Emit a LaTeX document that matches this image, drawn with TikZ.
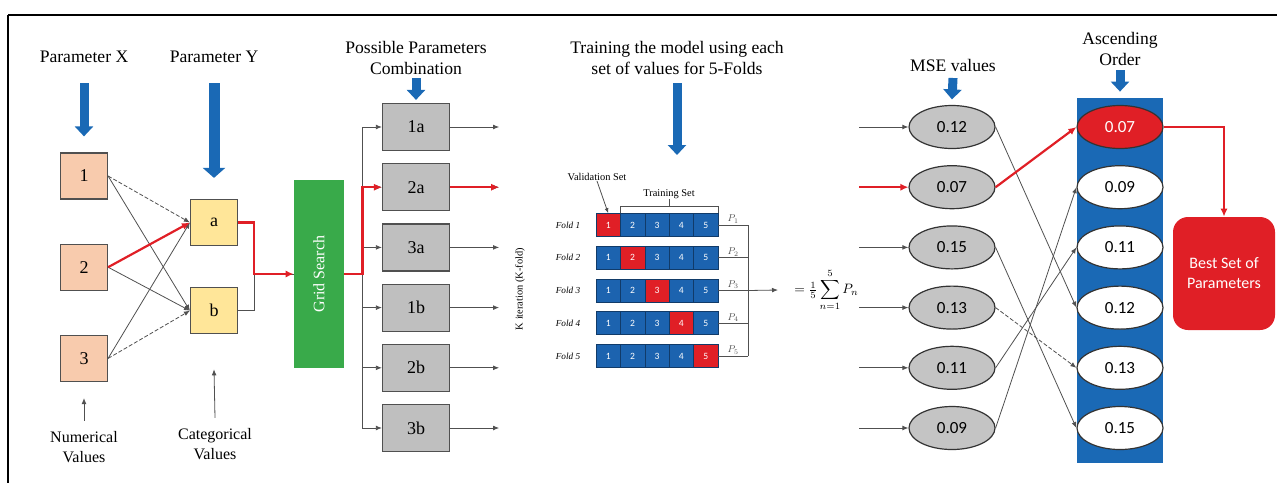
\documentclass[tikz,border=0pt]{standalone}
\usepackage{fontspec}
\setmainfont{Liberation Serif}
\newfontfamily\calibri{Carlito}
\usepackage{tikz}
\usetikzlibrary{positioning, shapes.geometric, arrows.meta}

\definecolor{salmonbox}{HTML}{F8CBAD}
\definecolor{yellowbox}{HTML}{FFE699}
\definecolor{gridgreen}{HTML}{39AA4A}
\definecolor{combgray}{HTML}{BFBFBF}
\definecolor{msegray}{HTML}{C4C4C4}
\definecolor{bigblue}{HTML}{1A69B5}
\definecolor{foldblue}{HTML}{1C63AF}
\definecolor{bestred}{HTML}{E01F26}
\definecolor{edgegray}{HTML}{505050}

\begin{document}
\begin{tikzpicture}[x=0.5pt, y=-0.5pt, node distance=6pt,
    headline/.style={font=\fontsize{8.8}{10.5}\selectfont, align=center, inner sep=0pt},
    bottomnote/.style={font=\fontsize{8}{10}\selectfont, align=center, inner sep=0pt},
    tinytext/.style={font=\fontsize{5.2}{6}\selectfont, inner sep=0pt},
    xbox/.style={draw=edgegray, line width=0.6pt, fill=salmonbox, minimum width=23.5pt, minimum height=23pt, inner sep=0pt, font=\fontsize{9}{10}\selectfont},
    ybox/.style={xbox, fill=yellowbox},
    combbox/.style={xbox, fill=combgray, minimum width=33.5pt, minimum height=23.5pt},
    gridbox/.style={fill=gridgreen, text=white, minimum width=25pt, minimum height=94pt, inner sep=0pt, font=\fontsize{8}{10}\selectfont},
    cell/.style={draw=foldblue!60!black, line width=0.3pt, text=white, minimum width=12.2pt, minimum height=11.5pt, inner sep=0pt, font=\calibri\fontsize{4.8}{5}\selectfont},
    foldlbl/.style={font=\fontsize{4.6}{5}\selectfont\itshape, inner sep=0pt},
    plbl/.style={inner sep=0.6pt},
    mseval/.style={ellipse, draw=black!80, line width=0.6pt, fill=msegray, minimum width=43pt, minimum height=21.5pt, inner sep=0pt, font=\calibri\fontsize{8.5}{10}\selectfont},
    ascval/.style={mseval, fill=white},
    bestbox/.style={fill=bestred, text=white, rounded corners=7.5pt, minimum width=51pt, minimum height=56.5pt, align=center, font=\calibri\fontsize{8}{10}\selectfont},
    bigarrow/.style={draw=bigblue, line width=4.5pt, -{Triangle[width=9pt,length=5pt]}},
    link/.style={draw=edgegray, line width=0.4pt, -{Latex[length=3pt,width=2.4pt]}},
    redlink/.style={draw=bestred, line width=1.1pt, -{Latex[length=4pt,width=3.6pt]}}]
  \useasboundingbox (0,0) rectangle (1277,483);
  % frame
  \draw[line width=1.2pt] (8,15) -- (1277,15);
  \draw[line width=0.6pt] (8,15) -- (8,483);

  % parameters
  \node[headline] (parX) at (84,57) {Parameter X};
  \node[headline] (parY) at (214,57) {Parameter Y};
  \node[xbox] (x1) at (84,176) {1};
  \node[xbox, below=22pt of x1] (x2) {2};
  \node[xbox, below=22pt of x2] (x3) {3};
  \node[ybox] (ya) at (214,222.5) {a};
  \node[ybox, below=20.5pt of ya] (yb) {b};
  \node[bottomnote] (num) at (84,447) {Numerical\\Values};
  \node[bottomnote] (cat) at (215,444) {Categorical\\Values};

  \draw[bigarrow] ([yshift=-13pt]parX.center) -- ([yshift=8pt]x1.north);
  \draw[bigarrow, line width=5.5pt, -{Triangle[width=11pt,length=5pt]}] ([yshift=-13pt]parY.center) -- ([yshift=10.5pt]ya.north);
  \draw[link, dash pattern=on 2pt off 1pt] (x1.east) -- (ya.west);
  \draw[link] (x1.east) -- (yb.west);
  \draw[link] (x2.east) -- (yb.west);
  \draw[link] (x3.east) -- (ya.west);
  \draw[link, dash pattern=on 2pt off 1pt] (x3.east) -- (yb.west);
  \draw[redlink] (x2.east) -- (ya.west);
  \draw[link] ([yshift=5pt]num.north) -- ([yshift=-8pt]x3.south);
  \draw[link] ([yshift=5pt]cat.north) -- ([yshift=-17.5pt]yb.south);

  % grid search
  \node[gridbox] (grid) at (319,274) {\rotatebox{90}{Grid Search}};
  \draw[edgegray, line width=0.5pt] (yb.east) -- ++(8pt,0) |- (grid.west);
  \draw[redlink] (ya.east) -- ++(8pt,0) |- (grid.west);

  % combinations
  \node[headline] (comb) at (416,57.5) {Possible Parameters\\Combination};
  \node[combbox] (c1a) at (416,127) {1a};
  \node[combbox, below=of c1a] (c2a) {2a};
  \node[combbox, below=of c2a] (c3a) {3a};
  \node[combbox, below=of c3a] (c1b) {1b};
  \node[combbox, below=of c1b] (c2b) {2b};
  \node[combbox, below=of c2b] (c3b) {3b};
  \draw[bigarrow] ([yshift=-10.25pt]comb.center) -- ([yshift=1.5pt]c1a.north);
  \foreach \n in {c1a,c2a,c3a,c1b,c2b,c3b}{
    \coordinate[right=24.5pt of \n] (o\n);
    \draw[link] (grid.east) -- ++(9pt,0) |- (\n.west);
    \draw[link] (\n.east) -- (o\n);
  }
  \draw[redlink] (grid.east) -- ++(9pt,0) |- (c2a.west);
  \draw[redlink] (c2a.east) -- (oc2a);
  \node[tinytext, rotate=90] (kit) at (520,289) {K iteration (K-fold)};

  % k-fold training
  \node[headline] (train) at (677,58) {Training the model using each\\set of values for 5-Folds};
  \coordinate (trainTip) at (677,155);
  \draw[bigarrow] ([yshift=-12.5pt]train.center) -- (trainTip);
  \foreach \r in {1,...,5}{
    \node[foldlbl] (fl\r) at (568,{225+32.75*(\r-1)}) {Fold \r};
    \foreach \c in {1,...,5}{
      \ifnum\r=\c \def\cellcol{bestred}\else \def\cellcol{foldblue}\fi
      \node[cell, fill=\cellcol] (f\r\c) at ({596+24.4*\c-12.2},{225+32.75*(\r-1)}) {\c};
    }
    \coordinate (p\r) at (748,{225+32.75*(\r-1)});
    \draw[edgegray, line width=0.4pt] (f\r5.east) -- node[plbl, above] {\scalebox{0.5}{$P_\r$}} (p\r);
  }
  \draw[edgegray, line width=0.4pt] (p1) -- (p5);
  \node[tinytext] (val) at (597,177) {Validation Set};
  \node[tinytext] (trn) at (669,194) {Training Set};
  \draw[edgegray, line width=0.4pt, -{Latex[length=2.5pt,width=2pt]}] (val.south) -- (f11.north);
  \draw[edgegray, line width=0.3pt] (f12.north west) -- ++(0,3.5pt) coordinate (brl) -| (f15.north east);
  \draw[edgegray, line width=0.3pt] (trn.south) -- (trn.south |- brl);
  \node[anchor=west, inner sep=0pt] (avg) at (794,290) {\scalebox{0.68}{$=\frac{1}{5}\displaystyle\sum_{n=1}^{5}P_n$}};
  \draw[link] (p3) -- ([xshift=-8pt]avg.west);

  % MSE values
  \node[headline] (mse) at (953,65) {MSE values};
  \node[mseval] (m1) at (952,127) {0.12};
  \node[mseval, below=8pt of m1] (m2) {0.07};
  \node[mseval, below=8pt of m2] (m3) {0.15};
  \node[mseval, below=8pt of m3] (m4) {0.13};
  \node[mseval, below=8pt of m4] (m5) {0.11};
  \node[mseval, below=8pt of m5] (m6) {0.09};
  \draw[bigarrow] ([yshift=-6.5pt]mse.center) -- ([yshift=2.75pt]m1.north);
  \foreach \i in {1,...,6}{
    \coordinate[left=24.5pt of m\i] (in\i);
  }
  \draw[link] (in1) -- (m1.west);
  \draw[redlink] (in2) -- (m2.west);
  \draw[link] (in3) -- (m3.west);
  \draw[link] (in4) -- (m4.west);
  \draw[link] (in5) -- (m5.west);
  \draw[link] (in6) -- (m6.west);

  % ascending order
  \node[headline] (asc) at (1120,49) {Ascending\\Order};
  \node[fill=bigblue, minimum width=43pt, minimum height=182.5pt, inner sep=0pt] (col) at (1120,280.5) {};
  \draw[bigarrow] ([yshift=-10.5pt]asc.center) -- ([yshift=3pt]col.north);
  \node[ascval, fill=bestred, text=white] (a1) at (1120,127) {0.07};
  \node[ascval, below=8pt of a1] (a2) {0.09};
  \node[ascval, below=8pt of a2] (a3) {0.11};
  \node[ascval, below=8pt of a3] (a4) {0.12};
  \node[ascval, below=8pt of a4] (a5) {0.13};
  \node[ascval, below=8pt of a5] (a6) {0.15};
  \draw[link] (m1.east) -- (a4.west);
  \draw[link] (m3.east) -- (a6.west);
  \draw[link, dash pattern=on 2pt off 1pt] (m4.east) -- (a5.west);
  \draw[link] (m5.east) -- (a3.west);
  \draw[link] (m6.east) -- (a2.west);
  \draw[redlink] (m2.east) -- (a1.west);

  % best set
  \node[bestbox] (best) at (1224,273.5) {Best Set of\\Parameters};
  \draw[redlink] (a1.east) -| (best.north);
\end{tikzpicture}
\end{document}
